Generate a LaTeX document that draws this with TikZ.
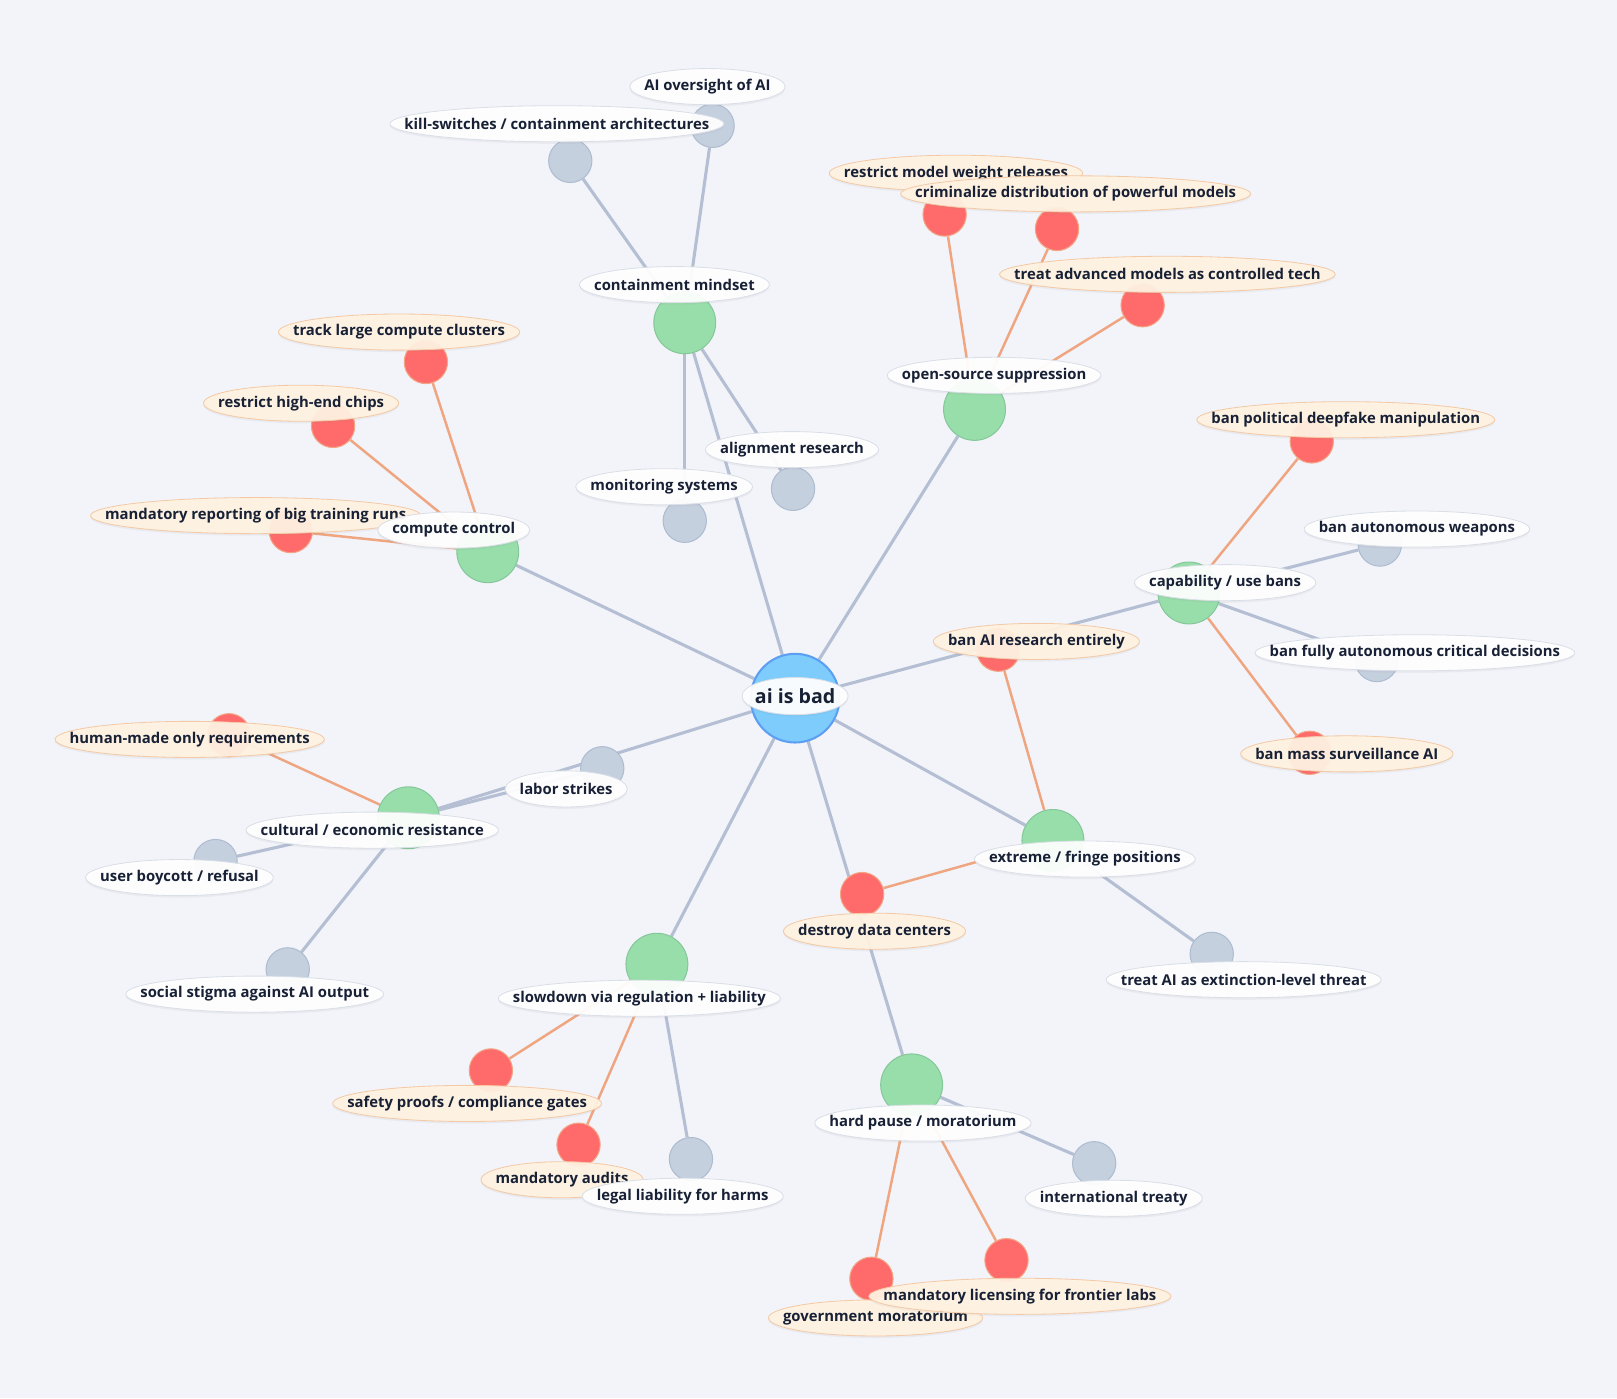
\documentclass[tikz,border=0pt]{standalone}
\usepackage{fontspec}
\setmainfont{Open Sans}
\usetikzlibrary{shadows,calc}

\definecolor{bgc}{HTML}{F2F4F9}
\definecolor{hubc}{HTML}{98DEAA}
\definecolor{hubd}{HTML}{86C79A}
\definecolor{redc}{HTML}{FF6B6B}
\definecolor{redd}{HTML}{F2A585}
\definecolor{grayc}{HTML}{C5D0DF}
\definecolor{grayd}{HTML}{AEBCD0}
\definecolor{rootc}{HTML}{7DCCFC}
\definecolor{rootd}{HTML}{5C9EF2}
\definecolor{gline}{HTML}{B5BFD3}
\definecolor{oline}{HTML}{EFA680}
\definecolor{cream}{HTML}{FFF2E1}
\definecolor{creamd}{HTML}{F3C9A6}
\definecolor{whited}{HTML}{D9DEE7}
\definecolor{txt}{HTML}{172035}

\pgfdeclarelayer{edges}
\pgfdeclarelayer{labels}
\pgfsetlayers{edges,main,labels}

% label: [bg style]{name}{x}{y}{text}
\newcommand\lbl[5][wlbl]{%
  \node[lbltxt] (#2-p) at (#3,#4) {\phantom{#5}};
  \path[#1] let \p1=(#2-p.west), \p2=(#2-p.east) in
    (#2-p.center) ellipse [x radius=0.5*\x2-0.5*\x1+14pt, y radius=17.5pt];
  \node[lbltxt] (#2) at (#3,#4) {#5};}

\tikzset{
  hub/.style={circle, inner sep=0pt, minimum size=60pt, fill=hubc, draw=hubd, line width=1pt},
  red/.style={circle, inner sep=0pt, minimum size=42pt, fill=redc, draw=redd, line width=1pt},
  gry/.style={circle, inner sep=0pt, minimum size=42pt, fill=grayc, draw=grayd, line width=1pt},
  gedge/.style={draw=gline, line width=3pt},
  oedge/.style={draw=oline, line width=2.4pt},
  wlbl/.style={fill=white, draw=whited, line width=0.8pt, fill opacity=0.94,
    drop shadow={shadow xshift=0pt, shadow yshift=-2pt, opacity=0.08}},
  clbl/.style={fill=cream, draw=creamd, line width=0.8pt, fill opacity=0.94,
    drop shadow={shadow xshift=0pt, shadow yshift=-2pt, opacity=0.08}},
  lbltxt/.style={inner sep=0pt, text=txt, font=\bfseries\fontsize{14.4}{16}\selectfont}
}

\begin{document}
\begin{tikzpicture}[x=1pt, y=-1pt]
\useasboundingbox (0,0) rectangle (1568,1356);

\node[circle, inner sep=0pt, minimum size=86pt, fill=rootc, draw=rootd, line width=2pt] (root) at (771,677) {};

\node[hub] (cm) at (664,313) {};
\node[hub] (os) at (945,397) {};
\node[hub] (cc) at (473,535) {};
\node[hub] (cap) at (1153,575) {};
\node[hub] (cul) at (396,793) {};
\node[hub] (ext) at (1021,815) {};
\node[hub] (slow) at (637,935) {};
\node[hub] (hp) at (884,1052) {};

\node[gry] (ks) at (553,156) {};
\node[gry] (aio) at (691,122) {};
\node[gry] (ar) at (769,474) {};
\node[gry] (ms) at (664,505) {};
\node[red] (rmw) at (916,208) {};
\node[red] (crim) at (1025,222) {};
\node[red] (tam) at (1108,296) {};
\node[red] (tlc) at (413,351) {};
\node[red] (rhc) at (323,413) {};
\node[red] (mr) at (282,515) {};
\node[red] (bpd) at (1272,428) {};
\node[gry] (baw) at (1338,528) {};
\node[gry] (bfa) at (1335,640) {};
\node[red] (bms) at (1270,730) {};
\node[red] (bar) at (968,630) {};
\node[red] (ddc) at (836,867) {};
\node[gry] (tae) at (1175,925) {};
\node[gry] (it) at (1061,1128) {};
\node[red] (gm) at (845,1240) {};
\node[red] (ml) at (976,1222) {};
\node[red] (sp) at (476,1038) {};
\node[red] (ma) at (561,1110) {};
\node[gry] (ll) at (670,1124) {};
\node[red] (hmo) at (222,713) {};
\node[gry] (ls) at (584,745) {};
\node[gry] (ub) at (209,835) {};
\node[gry] (ss) at (279,940) {};

\begin{pgfonlayer}{edges}
\fill[bgc] (0,0) rectangle (1568,1356);
\foreach \h in {cm,os,cc,cap,cul,ext,slow,hp}
  \draw[gedge] (root) -- (\h);
\foreach \a/\b in {cm/ks,cm/aio,cm/ar,cm/ms,cap/baw,cap/bfa,ext/tae,cul/ls,cul/ub,cul/ss,slow/ll,hp/it}
  \draw[gedge] (\a) -- (\b);
\foreach \a/\b in {os/rmw,os/crim,os/tam,cc/tlc,cc/rhc,cc/mr,cap/bpd,cap/bms,ext/bar,ext/ddc,cul/hmo,slow/sp,slow/ma,hp/gm,hp/ml}
  \draw[oedge] (\a) -- (\b);
\end{pgfonlayer}

\begin{pgfonlayer}{labels}
\lbl{aio-l}{686}{84}{AI oversight of AI}
\lbl{ks-l}{540}{120}{kill-switches / containment architectures}
\lbl[clbl]{rmw-l}{927}{168}{restrict model weight releases}
\lbl[clbl]{crim-l}{1043}{188}{criminalize distribution of powerful models}
\lbl[clbl]{tam-l}{1132}{266}{treat advanced models as controlled tech}
\lbl[clbl]{tlc-l}{387}{322}{track large compute clusters}
\lbl[clbl]{rhc-l}{292}{391}{restrict high-end chips}
\lbl[clbl]{mr-l}{248}{500}{mandatory reporting of big training runs}
\lbl[clbl]{bpd-l}{1305}{407}{ban political deepfake manipulation}
\lbl{ar-l}{768}{436}{alignment research}
\lbl{ms-l}{644}{472}{monitoring systems}
\lbl{baw-l}{1374}{513}{ban autonomous weapons}
\lbl[clbl]{bar-l}{1005}{622}{ban AI research entirely}
\lbl{bfa-l}{1372}{633}{ban fully autonomous critical decisions}
\lbl[clbl]{hmo-l}{184}{717}{human-made only requirements}
\lbl[clbl]{bms-l}{1306}{731}{ban mass surveillance AI}
\lbl{ls-l}{549}{765}{labor strikes}
\lbl{ub-l}{174}{851}{user boycott / refusal}
\lbl[clbl]{ddc-l}{848}{903}{destroy data centers}
\lbl{tae-l}{1206}{950}{treat AI as extinction-level threat}
\lbl{ss-l}{247}{964}{social stigma against AI output}
\lbl[clbl]{sp-l}{453}{1070}{safety proofs / compliance gates}
\lbl[clbl]{ma-l}{545}{1144}{mandatory audits}
\lbl{ll-l}{662}{1160}{legal liability for harms}
\lbl{it-l}{1080}{1162}{international treaty}
\lbl[clbl]{gm-l}{849}{1278}{government moratorium}
\lbl[clbl]{ml-l}{989}{1257}{mandatory licensing for frontier labs}
\lbl{cm-l}{654}{276}{containment mindset}
\lbl{os-l}{964}{364}{open-source suppression}
\lbl{cc-l}{440}{514}{compute control}
\lbl{cap-l}{1188}{565}{capability / use bans}
\lbl{cul-l}{361}{805}{cultural / economic resistance}
\lbl{ext-l}{1052}{833}{extreme / fringe positions}
\lbl{slow-l}{620}{968}{slowdown via regulation + liability}
\lbl{hp-l}{895}{1089}{hard pause / moratorium}
\path[wlbl] (771,675) ellipse [x radius=51.5pt, y radius=18pt];
\node[lbltxt, font=\bfseries\fontsize{19}{21}\selectfont] (root-l) at (771,675) {ai is bad};
\end{pgfonlayer}
\end{tikzpicture}
\end{document}
